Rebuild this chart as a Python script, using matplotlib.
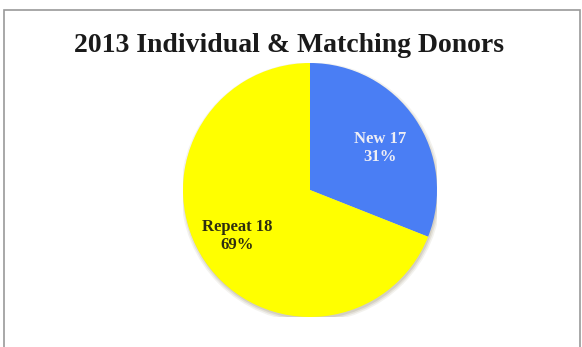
import matplotlib.pyplot as plt
from matplotlib.patches import Rectangle, Circle

title = '2013 Individual & Matching Donors'
names = ['New', 'Repeat']
counts = [17, 18]
percents = [31, 69]
colors = ['#4a7ef4', '#ffff00']
text_colors = ['#eeeef4', '#2e2e10']
label_pos = [(0.55, 0.33), (-0.575, -0.36)]

W, H = 582, 347
fig = plt.figure(figsize=(W / 100, H / 100), dpi=100)
fig.patch.set_facecolor('white')

# chart area frame (bottom runs off the image)
fig.patches.append(Rectangle((4 / W, -0.05), 576 / W, (H - 10) / H + 0.05,
                             transform=fig.transFigure, fill=False,
                             edgecolor='#9a9a9a', linewidth=1.2))

fig.text(289 / W, 1 - 46 / H, title, ha='center', va='center',
         fontsize=20, fontweight='bold', family='Liberation Serif',
         color='#1a1a1a')

cx, cy, r = 310, 190, 127
ax = fig.add_axes([(cx - r) / W, (H - cy - r) / H, 2 * r / W, 2 * r / H])

# soft shadow under the pie
for i, a in enumerate([0.10, 0.14, 0.18]):
    ax.add_patch(Circle((0.008, -0.018), 1.0 + 0.012 * (2 - i),
                        color='#8a8060', alpha=a, lw=0, zorder=0))

wedges, _ = ax.pie(percents, colors=colors, startangle=90, counterclock=False,
                   wedgeprops=dict(linewidth=0))
for w in wedges:
    w.set_zorder(2)

for name, n, p, tc, (x, y) in zip(names, counts, percents, text_colors, label_pos):
    ax.text(x, y, f'{name} {n}\n{p}%', ha='center', va='center',
            fontsize=12, fontweight='bold', family='Liberation Serif',
            color=tc, linespacing=1.15, zorder=3)

ax.set_xlim(-1, 1)
ax.set_ylim(-1, 1)
ax.set_aspect('equal')
ax.axis('off')

fig.savefig('out.png', dpi=100)
